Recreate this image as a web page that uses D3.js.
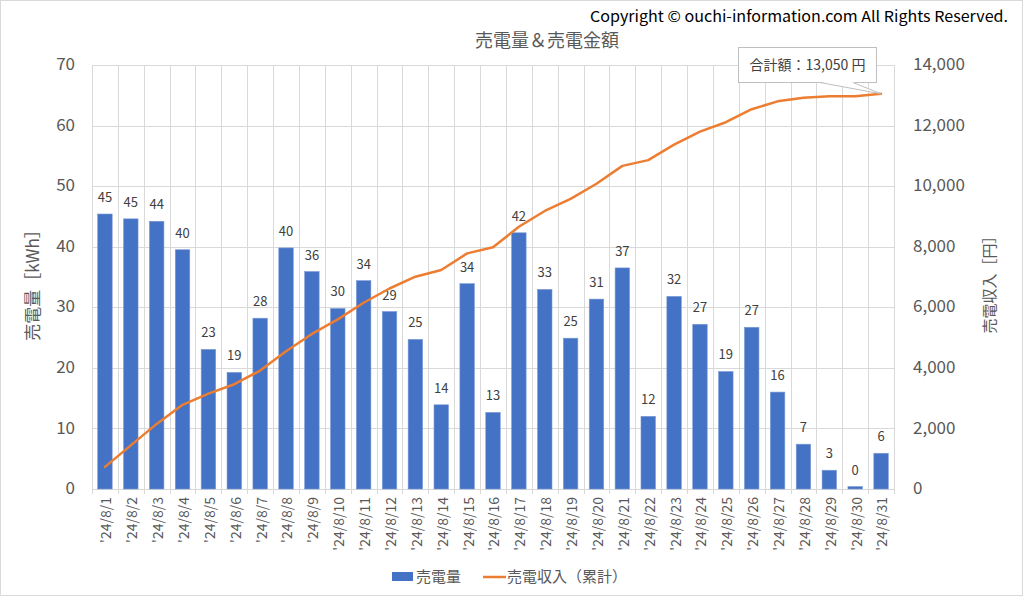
<!DOCTYPE html>
<html>
<head>
<meta charset="utf-8">
<script src="https://cdn.jsdelivr.net/npm/d3@7"></script>
<style>
  html, body { margin: 0; padding: 0; background: #fff; }
  svg { display: block; }
  text { font-family: "Noto Sans CJK JP", "Noto Sans", sans-serif; }
</style>
</head>
<body>
<svg id="chart" width="1024" height="598"></svg>
<script>
// ---- data ----
const dates = ["'24/8/1","'24/8/2","'24/8/3","'24/8/4","'24/8/5","'24/8/6","'24/8/7","'24/8/8","'24/8/9","'24/8/10",
  "'24/8/11","'24/8/12","'24/8/13","'24/8/14","'24/8/15","'24/8/16","'24/8/17","'24/8/18","'24/8/19","'24/8/20",
  "'24/8/21","'24/8/22","'24/8/23","'24/8/24","'24/8/25","'24/8/26","'24/8/27","'24/8/28","'24/8/29","'24/8/30","'24/8/31"];
const kwh = [45.4,44.6,44.2,39.5,23.05,19.25,28.2,39.8,35.9,29.8,
  34.4,29.3,24.7,13.9,33.9,12.65,42.3,32.95,24.9,31.35,
  36.5,12.0,31.8,27.2,19.4,26.7,16.0,7.4,3.1,0.4,5.9];
const revenueCum = [730,1440,2150,2780,3150,3460,3910,4550,5120,5600,
  6150,6620,7010,7230,7780,7980,8660,9180,9580,10080,
  10670,10860,11370,11800,12110,12540,12800,12920,12970,12970,13050];
const leftTicks = [0,10,20,30,40,50,60,70];
const rightTicks = [0,2000,4000,6000,8000,10000,12000,14000];
const titleText = "売電量＆売電金額";
const copyrightText = "Copyright © ouchi-information.com All Rights Reserved.";
const leftTitle = "売電量［kWh］";
const rightTitle = "売電収入［円］";
const legendNames = ["売電量", "売電収入（累計）"];
const calloutText = "合計額：13,050 円";

// ---- layout ----
const W = 1024, H = 598;
const plot = {left: 92, right: 894, top: 65, bottom: 489};
const svg = d3.select("#chart");

svg.append("rect").attr("x", 0.5).attr("y", 0.5).attr("width", W - 2).attr("height", H - 3)
  .attr("fill", "#fff").attr("stroke", "#d9d9d9");

const x = d3.scaleBand().domain(dates).range([plot.left, plot.right]).paddingInner(0.44).paddingOuter(0.22);
const xCell = d3.scaleBand().domain(dates).range([plot.left, plot.right]).padding(0);
const yL = d3.scaleLinear().domain([0, 70]).range([plot.bottom, plot.top]);
const yR = d3.scaleLinear().domain([0, 14000]).range([plot.bottom, plot.top]);

const grid = svg.append("g");
// horizontal gridlines
grid.selectAll("line.h").data(leftTicks).join("line")
  .attr("x1", plot.left).attr("x2", plot.right)
  .attr("y1", d => Math.round(yL(d)) + 0.5).attr("y2", d => Math.round(yL(d)) + 0.5)
  .attr("stroke", "#d9d9d9").attr("stroke-width", 1);
// vertical gridlines at category boundaries
const bounds = dates.map(d => xCell(d)).concat([plot.right]);
grid.selectAll("line.v").data(bounds).join("line")
  .attr("x1", d => Math.round(d) + 0.5).attr("x2", d => Math.round(d) + 0.5)
  .attr("y1", plot.top).attr("y2", plot.bottom + 5)
  .attr("stroke", "#d9d9d9").attr("stroke-width", 1);

// bars
svg.append("g").selectAll("rect").data(dates).join("rect")
  .attr("x", d => x(d)).attr("width", x.bandwidth())
  .attr("y", (d, i) => yL(kwh[i])).attr("height", (d, i) => yL(0) - yL(kwh[i]))
  .attr("fill", "#4472C4").attr("stroke", "#7b9bd6").attr("stroke-width", 0.6);

// data labels
svg.append("g").selectAll("text").data(dates).join("text")
  .attr("x", d => x(d) + x.bandwidth() / 2)
  .attr("y", (d, i) => yL(kwh[i]) - 12)
  .attr("text-anchor", "middle")
  .attr("font-size", 13).attr("fill", "#404040")
  .text((d, i) => d3.format(".0f")(kwh[i]));

// cumulative line
const line = d3.line().x((d, i) => x(dates[i]) + x.bandwidth() / 2).y(d => yR(d));
svg.append("path").datum(revenueCum).attr("d", line)
  .attr("fill", "none").attr("stroke", "#ED7D31").attr("stroke-width", 2.5)
  .attr("stroke-linejoin", "round").attr("stroke-linecap", "round");

// left axis labels
svg.append("g").selectAll("text").data(leftTicks).join("text")
  .attr("x", 75).attr("y", d => yL(d) - 1).attr("dy", "0.36em")
  .attr("text-anchor", "end").attr("font-size", 17).attr("fill", "#595959")
  .text(d => d);
// right axis labels
svg.append("g").selectAll("text").data(rightTicks).join("text")
  .attr("x", 913).attr("y", d => yR(d) - 1).attr("dy", "0.36em")
  .attr("text-anchor", "start").attr("font-size", 17).attr("fill", "#595959")
  .text(d => d3.format(",")(d));

// x labels
svg.append("g").selectAll("text").data(dates).join("text")
  .attr("transform", d => `translate(${x(d) + x.bandwidth() / 2 + 1.5},497) rotate(-90)`)
  .attr("text-anchor", "end").attr("dy", "0.35em")
  .attr("font-size", 14).attr("fill", "#595959")
  .text(d => d);

// axis titles
svg.append("text").attr("transform", "translate(33,281) rotate(-90)")
  .attr("text-anchor", "middle").attr("dy", "0.35em")
  .attr("font-size", 17).attr("fill", "#595959").text(leftTitle);
svg.append("text").attr("transform", "translate(990,281) rotate(-90)")
  .attr("text-anchor", "middle").attr("dy", "0.35em")
  .attr("font-size", 15).attr("fill", "#595959").text(rightTitle);

// title
svg.append("text").attr("x", 547).attr("y", 41).attr("dy", "0.35em")
  .attr("text-anchor", "middle").attr("font-size", 18).attr("fill", "#595959").text(titleText);

// copyright
svg.append("text").attr("x", 1008).attr("y", 17).attr("dy", "0.35em")
  .attr("text-anchor", "end").attr("font-size", 15).attr("fill", "#000")
  .attr("textLength", 418).attr("lengthAdjust", "spacingAndGlyphs")
  .text(copyrightText);

// callout
const tipX = x(dates[dates.length - 1]) + x.bandwidth() / 2;
const tipY = yR(revenueCum[revenueCum.length - 1]);
const box = {x: 738, y: 47, w: 138, h: 35};
const co = svg.append("g");
co.append("rect").attr("x", box.x + 0.5).attr("y", box.y + 0.5).attr("width", box.w).attr("height", box.h)
  .attr("fill", "#fff").attr("stroke", "#bfbfbf");
co.append("polygon")
  .attr("points", `${820},${box.y + box.h} ${853},${box.y + box.h} ${tipX},${tipY}`)
  .attr("fill", "#fff").attr("stroke", "none");
co.append("path")
  .attr("d", `M820,${box.y + box.h + 0.5} L${tipX},${tipY} L853,${box.y + box.h + 0.5}`)
  .attr("fill", "none").attr("stroke", "#bfbfbf");
co.append("text").attr("x", box.x + box.w / 2 + 0.5).attr("y", box.y + box.h / 2 + 0.5).attr("dy", "0.35em")
  .attr("text-anchor", "middle").attr("font-size", 14).attr("fill", "#404040").text(calloutText);

// legend
const lg = svg.append("g");
lg.append("rect").attr("x", 392).attr("y", 572).attr("width", 21).attr("height", 9).attr("fill", "#4472C4");
lg.append("text").attr("x", 416).attr("y", 577).attr("dy", "0.35em").attr("font-size", 15)
  .attr("fill", "#595959").text(legendNames[0]);
lg.append("line").attr("x1", 483).attr("x2", 506).attr("y1", 577).attr("y2", 577)
  .attr("stroke", "#ED7D31").attr("stroke-width", 2.5);
lg.append("text").attr("x", 507).attr("y", 577).attr("dy", "0.35em").attr("font-size", 15)
  .attr("fill", "#595959").text(legendNames[1]);
</script>
</body>
</html>
